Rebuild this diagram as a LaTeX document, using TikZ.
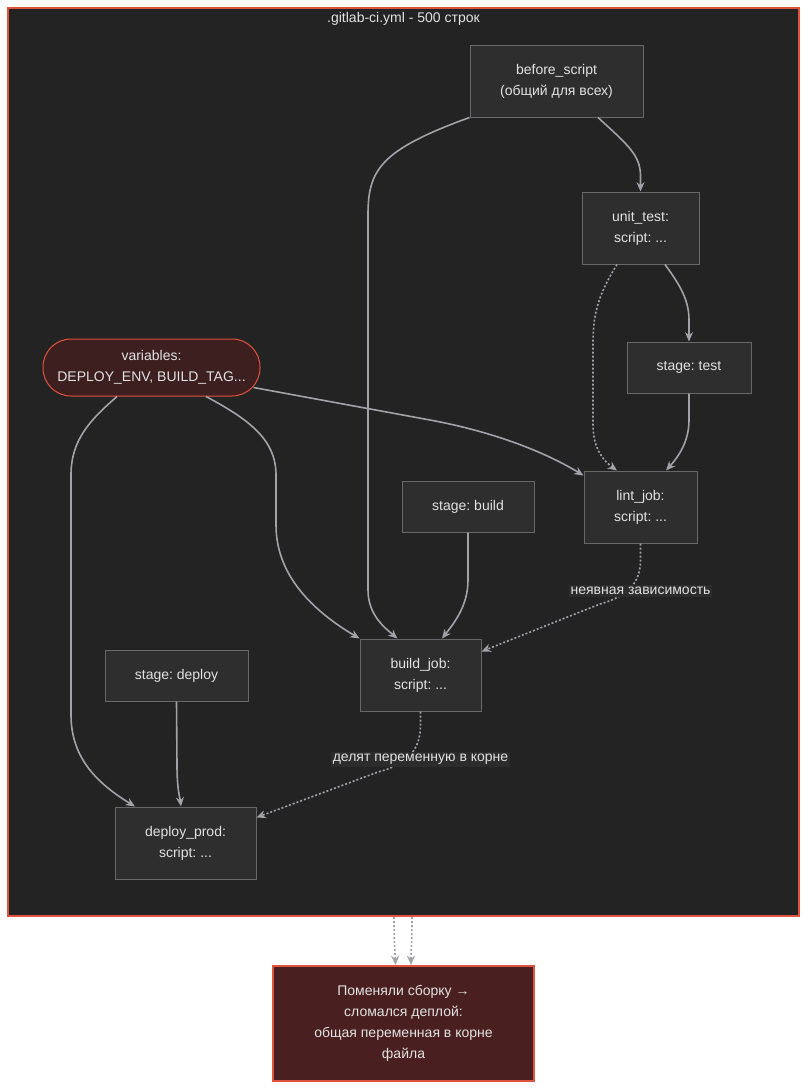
\documentclass[tikz,border=0pt]{standalone}
\usepackage{fontspec}
\setmainfont{Liberation Sans}
\usetikzlibrary{arrows.meta}
\usetikzlibrary{calc}
\frenchspacing
\definecolor{clfill}{HTML}{232323}
\definecolor{clred}{HTML}{E0533F}
\definecolor{boxfill}{HTML}{2E2E2E}
\definecolor{boxline}{HTML}{686868}
\definecolor{txt}{HTML}{E2E2E2}
\definecolor{edgec}{HTML}{A2A2AA}
\definecolor{varfill}{HTML}{3D1F20}
\definecolor{badfill}{HTML}{4A1F1F}
\definecolor{lblfill}{HTML}{2C2C2C}

\begin{document}
\begin{tikzpicture}[x=0.75pt,y=-0.75pt,
    every node/.style={font=\fontsize{10.5}{15.75}\selectfont, text=txt, align=center},
    job/.style={draw=boxline, fill=boxfill, line width=0.75pt, inner sep=0pt},
    edge/.style={draw=edgec, line width=1.2pt, -{Stealth[length=7pt,width=6pt]}},
    weak/.style={edge, dash pattern=on 1.5pt off 1.5pt},
    elabel/.style={fill=lblfill, inner sep=1.5pt}]
          \useasboundingbox (0,0) rectangle (807,1089);
          \node[draw=clred, fill=clfill, line width=1.5pt, minimum width=593.25pt, minimum height=681pt] (clu) at (403.5,462) {};
          \node (cltitle) at (403.5,18.5) {.gitlab-ci.yml - 500 строк};

          \node[job, minimum width=129.75pt, minimum height=54pt] (bscr) at (556.5,81) {before\_script\\(общий для всех)};
          \node[job, minimum width=87.75pt, minimum height=54pt] (utest) at (640.5,228) {unit\_test:\\script: ...};
          \node[job, minimum width=93pt, minimum height=38.25pt] (stest) at (689,367.5) {stage: test};
          \node[draw=clred, fill=varfill, line width=0.75pt, rounded corners=21pt, minimum width=162.75pt, minimum height=42.75pt, inner sep=0pt] (vars) at (151.5,367.5) {variables:\\DEPLOY\_ENV, BUILD\_TAG...};
          \node[job, minimum width=84.75pt, minimum height=54pt] (lint) at (640.5,507) {lint\_job:\\script: ...};
          \node[job, minimum width=99pt, minimum height=38.25pt] (sbuild) at (468,506.5) {stage: build};
          \node[job, minimum width=90.75pt, minimum height=54pt] (bjob) at (420.5,675) {build\_job:\\script: ...};
          \node[job, minimum width=107.25pt, minimum height=38.25pt] (sdeploy) at (176.5,675.5) {stage: deploy};
          \node[job, minimum width=105.75pt, minimum height=54pt] (dprod) at (185.5,843) {deploy\_prod:\\script: ...};
          \node[draw=clred, fill=badfill, line width=1.5pt, minimum width=195.75pt, minimum height=86.25pt, inner sep=0pt] (broken) at (403.5,1023.5) {Поменяли сборку →\\сломался деплой:\\общая переменная в корне\\файла};

          \draw[edge] (bscr.south west) .. controls (380,150) and (368,170) .. (368,215) -- (368,590) .. controls (368,615) and (385,628) .. ($(bjob.north)+(-23,0)$);
          \draw[edge] ($(bscr.south)+(41.5,0)$) .. controls (628,145) and (640,155) .. (640.5,175) -- (utest.north);
          \draw[weak] ($(utest.south)+(-23.5,0)$) .. controls (596,298) and (593,318) .. (593,345) -- (593,425) .. controls (593,450) and (605,462) .. ($(lint.north)+(-23.5,0)$);
          \draw[edge] ($(utest.south)+(24.5,0)$) .. controls (680,285) and (689,300) .. (689,320) -- (stest.north);
          \draw[edge] (stest.south) -- (689,420) .. controls (689,440) and (680,455) .. ($(lint.north)+(25.5,0)$);
          \draw[edge] ($(vars.south east)+(-7,-9)$) -- (430,420) .. controls (500,433) and (550,455) .. ($(lint.north west)+(0,5)$);
          \draw[edge] ($(vars.south)+(54.5,0)$) .. controls (250,420) and (276,440) .. (276,475) -- (276,525) .. controls (276,580) and (320,615) .. (bjob.north west);
          \draw[edge] ($(vars.south)+(-34.5,0)$) .. controls (90,420) and (71,440) .. (71,475) -- (71,715) .. controls (71,760) and (100,785) .. ($(dprod.north)+(-50.5,0)$);
          \draw[edge] (sbuild.south) -- (468,580) .. controls (468,605) and (455,622) .. ($(bjob.north)+(21.5,0)$);
          \draw[weak] (lint.south) -- (640.5,560) .. controls (640.5,585) and (625,597) .. (600,604) -- ($(bjob.north east)+(0,13)$);
          \draw[weak] (bjob.south) -- (420.5,725) .. controls (420.5,752) and (405,765) .. (378,772) -- ($(dprod.north east)+(0,11)$);
          \draw[edge] (sdeploy.south) -- (177,765) .. controls (177,790) and (180,798) .. ($(dprod.north)+(-4.5,0)$);
          \draw[weak] ($(clu.south)+(-9.5,0)$) .. controls (394,945) and (395,950) .. ($(broken.north)+(-8,0)$);
          \draw[weak] ($(clu.south)+(8.5,0)$) .. controls (412,945) and (411,950) .. ($(broken.north)+(7.5,0)$);

          \node[elabel] (hidden) at (640.5,591) {неявная зависимость};
          \node[elabel] (shared) at (420.5,759.5) {делят переменную в корне};
        \end{tikzpicture}
\end{document}
